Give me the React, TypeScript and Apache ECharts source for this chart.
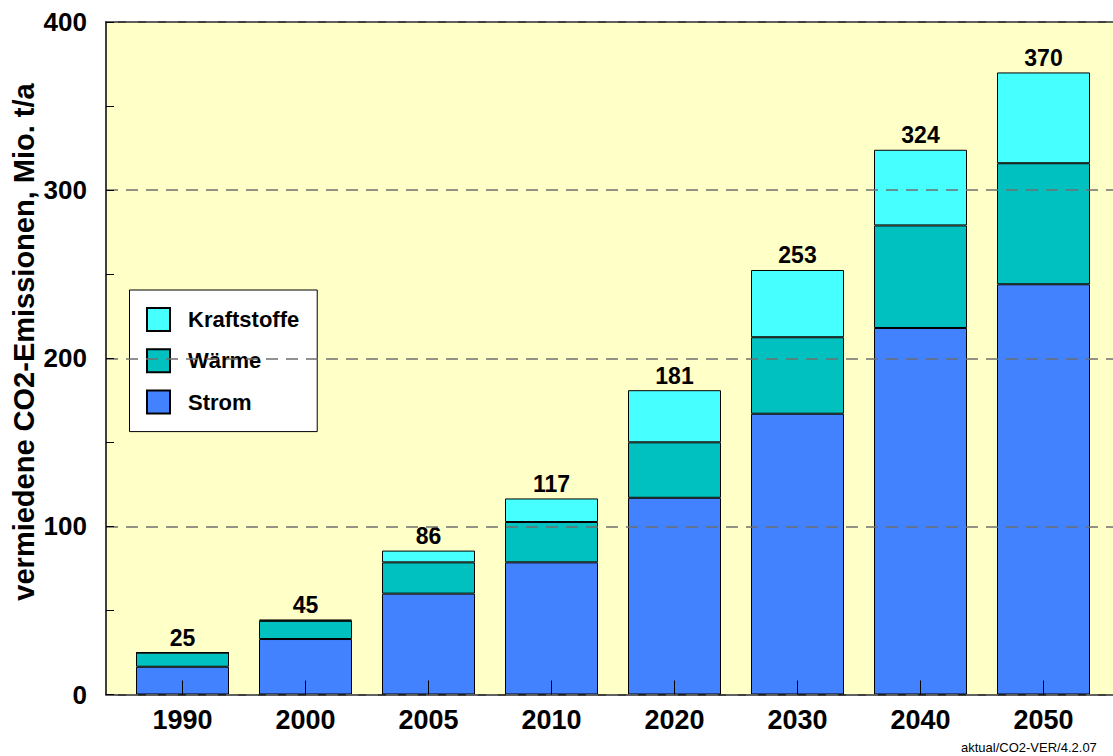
import React, { useEffect, useRef } from "react";
import * as echarts from "echarts";

const years = ["1990", "2000", "2005", "2010", "2020", "2030", "2040", "2050"];
const strom = [16.5, 33, 60, 78.6, 117, 167, 218, 244];
const waerme = [8.4, 10.8, 18.6, 24, 33, 45.5, 61, 72];
const kraftstoffe = [0, 0.8, 7, 14, 31, 40, 45, 54];
const totals = [25, 45, 86, 117, 181, 253, 324, 370];
const yTicks = [0, 100, 200, 300, 400];

const FONT = 'Arial, "Liberation Sans", sans-serif';

export default function App() {
  const ref = useRef<HTMLDivElement>(null);
  useEffect(() => {
    document.body.style.margin = "0";
    const chart = echarts.init(ref.current!, null, { renderer: "svg" });
    const border = { borderColor: "#000", borderWidth: 1 };
    chart.setOption({
      animation: false,
      backgroundColor: "#ffffff",
      textStyle: { fontFamily: FONT },
      grid: [
        { left: 106, top: 22, width: 1007, bottom: 61.5, show: true, backgroundColor: "#FFFFC8", borderWidth: 0 },
        { left: 121, top: 22, width: 984, bottom: 61.5 },
      ],
      xAxis: [
        { gridIndex: 0, type: "value", min: 0, max: 1, position: "bottom",
          axisLine: { show: true, onZero: false, lineStyle: { color: "#000", width: 1.5 } },
          axisTick: { show: false }, axisLabel: { show: false }, splitLine: { show: false } },
        { gridIndex: 0, type: "value", min: 0, max: 1, position: "top",
          axisLine: { show: true, onZero: false, lineStyle: { color: "#000", width: 1.5 } },
          axisTick: { show: false }, axisLabel: { show: false }, splitLine: { show: false } },
        { gridIndex: 1, type: "category", data: years, z: 5,
          axisLine: { show: false },
          axisTick: { show: true, inside: true, length: 14, alignWithLabel: true, lineStyle: { color: "#000", width: 1 } },
          axisLabel: { margin: 12, color: "#000", fontWeight: "bold", fontSize: 27, fontFamily: FONT },
        },
      ],
      yAxis: [
        { gridIndex: 0, type: "value", min: yTicks[0], max: yTicks[yTicks.length - 1], interval: 100, z: 5,
          axisLine: { show: true, lineStyle: { color: "#000", width: 1.5 } },
          axisTick: { show: true, inside: true, length: 8, lineStyle: { color: "#000" } },
          minorTick: { show: true, splitNumber: 2, length: 8, lineStyle: { color: "#000" } },
          axisLabel: { margin: 19, color: "#000", fontWeight: "bold", fontSize: 26, fontFamily: FONT },
          splitLine: { show: true, lineStyle: { color: "#6e6e6e", width: 1.5, type: [12, 8] } },
        },
        { gridIndex: 1, type: "value", min: 0, max: 400, show: false, splitLine: { show: false } },
      ],
      legend: {
        data: ["Kraftstoffe", "Wärme", "Strom"],
        orient: "vertical",
        left: 129.5,
        top: 290,
        padding: [17, 18, 17, 16.5],
        itemWidth: 23,
        itemHeight: 23,
        itemGap: 16.3,
        icon: "rect",
        backgroundColor: "#ffffff",
        borderColor: "#000",
        borderWidth: 1,
        textStyle: { color: "#000", fontWeight: "bold", fontSize: 22, fontFamily: FONT, padding: [0, 0, 0, 13] },
      },
      series: [
        { name: "Strom", type: "bar", stack: "a", xAxisIndex: 2, yAxisIndex: 1, barWidth: 93,
          data: strom, itemStyle: { color: "#4282FF", ...border } },
        { name: "Wärme", type: "bar", stack: "a", xAxisIndex: 2, yAxisIndex: 1, barWidth: 93,
          data: waerme, itemStyle: { color: "#00C0C0", ...border } },
        { name: "Kraftstoffe", type: "bar", stack: "a", xAxisIndex: 2, yAxisIndex: 1, barWidth: 93,
          data: kraftstoffe, itemStyle: { color: "#46FFFF", ...border },
          label: { show: true, position: "top", distance: 3, color: "#000", fontWeight: "bold", fontSize: 23, fontFamily: FONT,
            formatter: (p: any) => String(totals[p.dataIndex]) } },
      ],
      graphic: [
        { type: "text", x: 24, y: 342, rotation: Math.PI / 2,
          style: { text: "vermiedene CO2-Emissionen, Mio. t/a", fill: "#000", font: `bold 29px ${FONT}`, align: "center", verticalAlign: "middle" } },
        { type: "text", x: 961, y: 747,
          style: { text: "aktual/CO2-VER/4.2.07", fill: "#000", font: `13px ${FONT}`, align: "left", verticalAlign: "middle" } },
      ],
    });
    return () => chart.dispose();
  }, []);
  return <div ref={ref} style={{ position: "absolute", left: 0, top: 0, width: 1113, height: 756 }} />;
}
